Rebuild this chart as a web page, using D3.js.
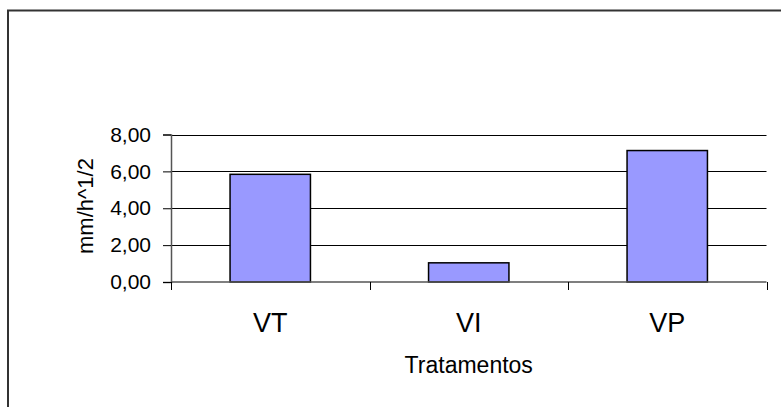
<!DOCTYPE html>
<html>
<head>
<meta charset="utf-8">
<script src="https://cdn.jsdelivr.net/npm/d3@7"></script>
<style>
  body { margin: 0; background: #fff; }
  svg text { font-family: "Liberation Sans", Arial, sans-serif; fill: #000; }
</style>
</head>
<body>
<svg id="chart" width="781" height="407"></svg>
<script>
const categories = ['VT', 'VI', 'VP'];
const values = [5.84, 1.04, 7.13];
const yTicks = [0, 2, 4, 6, 8];
const yTitle = 'mm/h^1/2';
const xTitle = 'Tratamentos';

const svg = d3.select('#chart');

// outer chart-area frame (only left and top edges are visible)
svg.append('path')
  .attr('d', 'M8,407 V10.5 H781')
  .attr('fill', 'none')
  .attr('stroke', '#333')
  .attr('stroke-width', 2);

const plot = { left: 171, right: 766.5, top: 134.5, bottom: 282 };

const x = d3.scaleBand()
  .domain(categories)
  .range([plot.left, plot.right])
  .padding(0);

const y = d3.scaleLinear()
  .domain([0, 8])
  .range([plot.bottom, plot.top]);

const barWidth = x.bandwidth() * 0.405;

// gridlines
svg.append('g')
  .selectAll('line')
  .data(yTicks.filter(d => d > 0))
  .join('line')
  .attr('x1', plot.left)
  .attr('x2', plot.right)
  .attr('y1', d => Math.round(y(d)) + 0.5)
  .attr('y2', d => Math.round(y(d)) + 0.5)
  .attr('stroke', '#000')
  .attr('stroke-width', 1);

// bars
svg.append('g')
  .selectAll('rect')
  .data(values)
  .join('rect')
  .attr('x', (d, i) => x(categories[i]) + (x.bandwidth() - barWidth) / 2)
  .attr('y', d => y(d))
  .attr('width', barWidth)
  .attr('height', d => plot.bottom - y(d))
  .attr('fill', '#9999ff')
  .attr('stroke', '#000')
  .attr('stroke-width', 1.5);

// y axis
const yAxis = svg.append('g')
  .attr('transform', `translate(${plot.left},0)`)
  .call(d3.axisLeft(y)
    .tickValues(yTicks)
    .tickSize(8)
    .tickPadding(12)
    .tickFormat(d => d3.format('.2f')(d).replace('.', ',')));
yAxis.select('.domain').attr('stroke', '#555').attr('stroke-width', 1.5);
yAxis.selectAll('.tick line').attr('stroke', '#000');
yAxis.selectAll('.tick text')
  .attr('font-size', 21)
  .attr('font-family', '"Liberation Sans", Arial, sans-serif')
  .attr('fill', '#000');

// x axis: line along zero with ticks at category boundaries
svg.append('line')
  .attr('x1', plot.left)
  .attr('x2', plot.right)
  .attr('y1', plot.bottom)
  .attr('y2', plot.bottom)
  .attr('stroke', '#555')
  .attr('stroke-width', 1.5);

const boundaries = categories.map(c => x(c)).concat([x(categories[categories.length - 1]) + x.bandwidth()]);
svg.append('g')
  .selectAll('line')
  .data(boundaries)
  .join('line')
  .attr('x1', d => Math.round(d) + 0.5)
  .attr('x2', d => Math.round(d) + 0.5)
  .attr('y1', plot.bottom)
  .attr('y2', plot.bottom + 8)
  .attr('stroke', '#000');

svg.append('g')
  .selectAll('text')
  .data(categories)
  .join('text')
  .attr('x', d => x(d) + x.bandwidth() / 2)
  .attr('y', 332)
  .attr('text-anchor', 'middle')
  .attr('font-size', 27)
  .text(d => d);

// axis titles
svg.append('text')
  .attr('x', (plot.left + plot.right) / 2)
  .attr('y', 373)
  .attr('text-anchor', 'middle')
  .attr('font-size', 23)
  .text(xTitle);

svg.append('text')
  .attr('transform', 'translate(93,206) rotate(-90)')
  .attr('text-anchor', 'middle')
  .attr('font-size', 22)
  .text(yTitle);
</script>
</body>
</html>
